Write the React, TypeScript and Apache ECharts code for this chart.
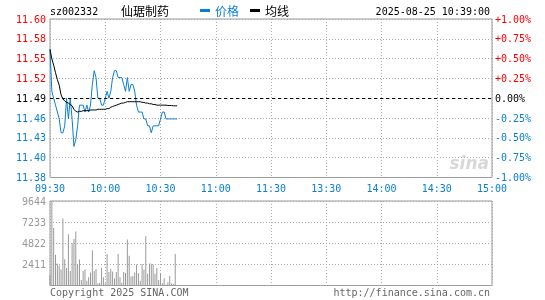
import React, { useEffect, useRef } from 'react';
import * as echarts from 'echarts';

const STOCK_CODE = 'sz002332';
const STOCK_NAME = '仙琚制药';
const TIMESTAMP = '2025-08-25 10:39:00';
const PRE_CLOSE = 11.49;
const TIME_LABELS = ['09:30', '10:00', '10:30', '11:00', '11:30', '13:30', '14:00', '14:30', '15:00'];
const LEGEND_PRICE = '价格';
const LEGEND_AVG = '均线';
const COPYRIGHT = 'Copyright 2025 SINA.COM';
const SITE_URL = 'http://finance.sina.com.cn';

// minute-by-minute prices from 09:30 to 10:39
const PRICES = [
  11.56, 11.5, 11.49, 11.48, 11.47, 11.46, 11.44, 11.44, 11.45, 11.49,
  11.46, 11.49, 11.46, 11.42, 11.43, 11.45, 11.48, 11.48, 11.48, 11.47,
  11.48, 11.47, 11.48, 11.51, 11.53, 11.52, 11.49, 11.49, 11.48, 11.48,
  11.49, 11.5, 11.49, 11.5, 11.52, 11.53, 11.53, 11.52, 11.52, 11.52,
  11.51, 11.5, 11.52, 11.5, 11.51, 11.51, 11.5, 11.48, 11.47, 11.47,
  11.47, 11.46, 11.46, 11.45, 11.45, 11.44, 11.45, 11.45, 11.45, 11.45,
  11.46, 11.47, 11.47, 11.46, 11.46, 11.46, 11.46, 11.46, 11.46, 11.46,
];

const AVG_PRICES = [
  11.561, 11.547, 11.538, 11.527, 11.517, 11.509, 11.495, 11.489, 11.486, 11.484,
  11.483, 11.481, 11.479, 11.474, 11.471, 11.47, 11.471, 11.471, 11.472, 11.472,
  11.472, 11.472, 11.473, 11.473, 11.473, 11.473, 11.474, 11.474, 11.474, 11.474,
  11.474, 11.475, 11.475, 11.477, 11.478, 11.479, 11.48, 11.481, 11.482, 11.483,
  11.483, 11.484, 11.485, 11.485, 11.485, 11.485, 11.485, 11.485, 11.485, 11.485,
  11.484, 11.484, 11.483, 11.483, 11.482, 11.482, 11.481, 11.481, 11.48, 11.48,
  11.48, 11.48, 11.48, 11.48, 11.4795, 11.4795, 11.4795, 11.479, 11.479, 11.479,
];

const VOLUMES = [
  1210, 9644, 6560, 3515, 2520, 2280, 1815, 7635, 3000, 2010,
  5855, 1655, 4830, 5295, 6175, 2410, 2955, 625, 1655, 1815,
  536, 935, 1495, 4030, 1655, 1885, 228, 300, 2010, 935,
  265, 3595, 1540, 1885, 1610, 800, 1540, 3595, 935, 300,
  1540, 1415, 5260, 3400, 1015, 1095, 1495, 2410, 1400, 536,
  2450, 1815, 5615, 1350, 2520, 2480, 2410, 1350, 2010, 625,
  1350, 265, 840, 100, 360, 1095, 265, 180, 3595, 60,
];

const VOLUME_MAX = 9644;
const VOLUME_STEP = 2411;

const BLUE = '#0a7fd0';
const RED = '#ff0000';
const GRAY = '#999999';
const MONO = '"DejaVu Sans Mono", "Liberation Mono", monospace';
const CJK = '"Noto Sans CJK SC", sans-serif';

export default function App() {
  const ref = useRef<HTMLDivElement>(null);

  useEffect(() => {
    const chart = echarts.init(ref.current!, null, { renderer: 'svg' });
    const toPct = (p: number) => (p / PRE_CLOSE - 1) * 100;
    const priceSeries = PRICES.map((p, i) => [i, toPct(p)]);
    const avgSeries = AVG_PRICES.map((p, i) => [i, toPct(p)]);
    const volSeries = VOLUMES.map((v, i) => [i, v]);

    const signColor = (val: any) => {
      const v = Number(val);
      if (Math.abs(v) < 1e-9) return '#000000';
      return v > 0 ? RED : BLUE;
    };

    const splitDotted = { show: true, lineStyle: { color: '#aaaaaa', type: [1, 2], width: 1 } };

    const option: any = {
      animation: false,
      grid: [
        { left: 50, right: 53, top: 19, height: 158.5, show: true, borderColor: GRAY, borderWidth: 1 },
        { left: 50, right: 53, top: 201, height: 84.5, show: true, borderColor: GRAY, borderWidth: 1 },
      ],
      xAxis: [
        {
          type: 'value', gridIndex: 0, min: 0, max: 240, interval: 30,
          axisLine: { show: false }, axisTick: { show: false },
          splitLine: splitDotted,
          axisLabel: {
            show: true, margin: 6, color: BLUE, fontFamily: MONO, fontSize: 10,
            formatter: (v: number) => TIME_LABELS[Math.round(v / 30)] ?? '',
          },
        },
        {
          type: 'value', gridIndex: 1, min: 0, max: 240, interval: 30,
          axisLine: { show: false }, axisTick: { show: false },
          splitLine: splitDotted,
          axisLabel: { show: false },
        },
      ],
      yAxis: [
        {
          type: 'value', gridIndex: 0, min: -1, max: 1, interval: 0.25, position: 'left',
          axisLine: { show: false }, axisTick: { show: false },
          splitLine: splitDotted,
          axisLabel: {
            margin: 4, fontFamily: MONO, fontSize: 10, color: signColor,
            formatter: (v: number) => (PRE_CLOSE * (1 + v / 100)).toFixed(2),
          },
        },
        {
          type: 'value', gridIndex: 0, min: -1, max: 1, interval: 0.25, position: 'right',
          axisLine: { show: false }, axisTick: { show: false },
          splitLine: { show: false },
          axisLabel: {
            margin: 3, fontFamily: MONO, fontSize: 10, color: signColor,
            formatter: (v: number) => {
              if (Math.abs(v) < 1e-9) return '0.00%';
              return (v > 0 ? '+' : '') + v.toFixed(2) + '%';
            },
          },
        },
        {
          type: 'value', gridIndex: 1, min: 0, max: VOLUME_MAX, interval: VOLUME_STEP,
          axisLine: { show: false }, axisTick: { show: false },
          splitLine: splitDotted,
          axisLabel: {
            margin: 4, fontFamily: MONO, fontSize: 10, color: GRAY, showMinLabel: false,
            formatter: (v: number) => String(Math.round(v)),
          },
        },
      ],
      series: [
        {
          type: 'line', name: LEGEND_PRICE, xAxisIndex: 0, yAxisIndex: 0,
          data: priceSeries, showSymbol: false, symbol: 'none',
          lineStyle: { color: BLUE, width: 1 }, itemStyle: { color: BLUE },
          markLine: {
            silent: true, symbol: ['none', 'none'], label: { show: false },
            lineStyle: { color: '#000000', type: [3, 3], width: 1 },
            data: [{ yAxis: 0 }],
          },
          z: 3,
        },
        {
          type: 'line', name: LEGEND_AVG, xAxisIndex: 0, yAxisIndex: 0,
          data: avgSeries, showSymbol: false, symbol: 'none',
          lineStyle: { color: '#000000', width: 1 }, itemStyle: { color: '#000000' },
          z: 4,
        },
        {
          type: 'bar', xAxisIndex: 1, yAxisIndex: 2,
          data: volSeries, barWidth: 1,
          itemStyle: { color: GRAY },
        },
      ],
      graphic: [
        { type: 'text', left: 50, top: 6, style: { text: STOCK_CODE, font: `10px ${MONO}`, fill: '#000' } },
        { type: 'text', left: 121, top: 4, style: { text: STOCK_NAME, font: `12px ${CJK}`, fill: '#000' } },
        { type: 'rect', shape: { x: 200, y: 9, width: 10, height: 3 }, style: { fill: BLUE } },
        { type: 'text', left: 215, top: 4, style: { text: LEGEND_PRICE, font: `12px ${CJK}`, fill: BLUE } },
        { type: 'rect', shape: { x: 250, y: 9, width: 10, height: 3 }, style: { fill: '#000' } },
        { type: 'text', left: 265, top: 4, style: { text: LEGEND_AVG, font: `12px ${CJK}`, fill: '#000' } },
        { type: 'text', right: 55, top: 6, style: { text: TIMESTAMP, font: `10px ${MONO}`, fill: '#000' } },
        { type: 'text', left: 50, top: 287, style: { text: COPYRIGHT, font: `10px ${MONO}`, fill: '#666' } },
        { type: 'text', right: 55, top: 287, style: { text: SITE_URL, font: `10px ${MONO}`, fill: '#666' } },
        {
          type: 'text', right: 56, top: 154, z: 0,
          style: { text: 'sina', font: `italic bold 17px "DejaVu Sans", sans-serif`, fill: '#d8d8d8' },
        },
      ],
    };

    chart.setOption(option);
    return () => chart.dispose();
  }, []);

  return <div ref={ref} style={{ position: 'fixed', left: 0, top: 0, width: 545, height: 300 }} />;
}
